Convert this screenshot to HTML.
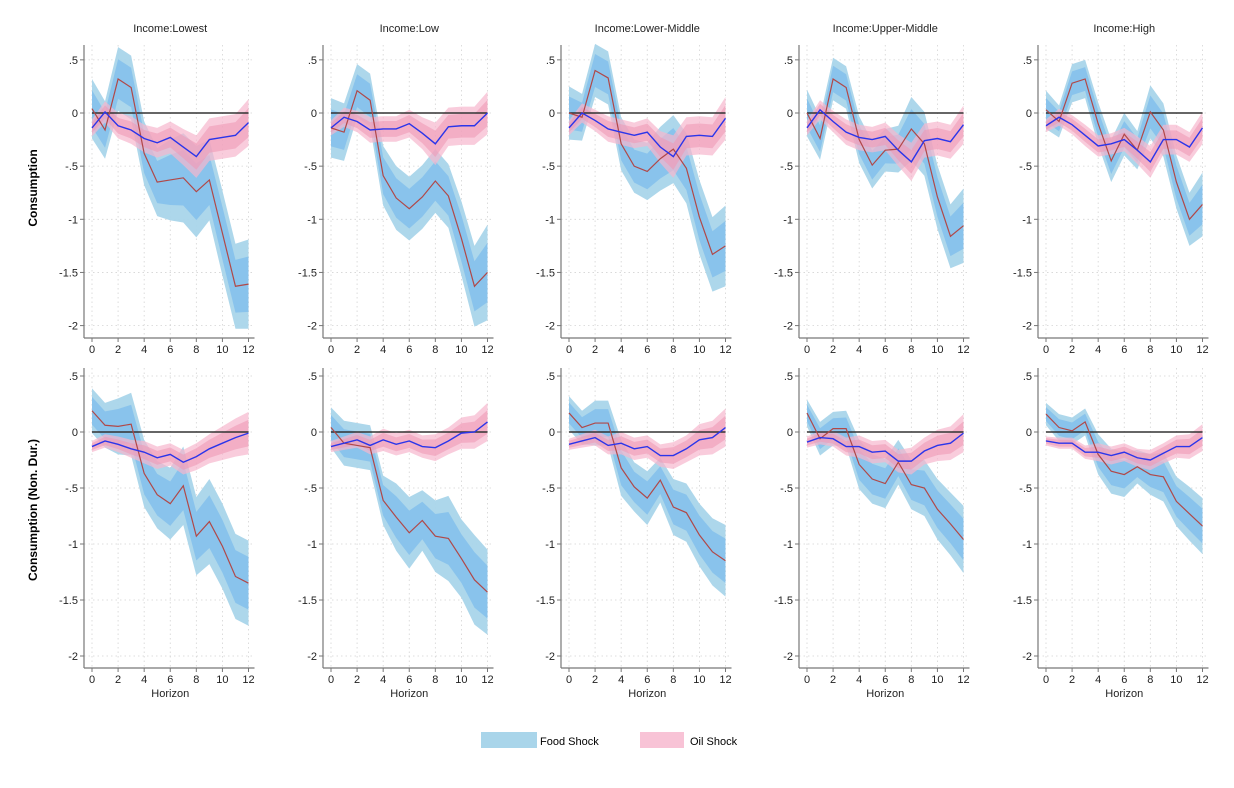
<!DOCTYPE html>
<html><head><meta charset="utf-8"><style>
html,body{margin:0;padding:0;background:#fff;}
svg{display:block;font-family:"Liberation Sans",Arial,sans-serif;}
</style></head><body>
<svg id="chart" width="1234" height="788" viewBox="0 0 1234 788" xmlns="http://www.w3.org/2000/svg">
<text x="37" y="188" transform="rotate(-90 37 188)" text-anchor="middle" font-size="12" font-weight="bold">Consumption</text>
<text x="37" y="510" transform="rotate(-90 37 510)" text-anchor="middle" font-size="12" font-weight="bold">Consumption (Non. Dur.)</text>
<g>
<rect x="481" y="732" width="56" height="16" fill="#a9d5ea"/>
<text x="540" y="745" font-size="11">Food Shock</text>
<rect x="640" y="732" width="44" height="16" fill="#f8c3d6"/>
<text x="690" y="745" font-size="11">Oil Shock</text>
</g>
</svg>
<script>
const horizons = [0,1,2,3,4,5,6,7,8,9,10,11,12];
const xTickLabels = ["0","2","4","6","8","10","12"];
const yTickValues = [0.5,0,-0.5,-1,-1.5,-2];
const yTickLabels = [".5","0","-.5","-1","-1.5","-2"];
const panelTitles = ["Income:Lowest","Income:Low","Income:Lower-Middle","Income:Upper-Middle","Income:High"];

// Row 1: Consumption
const foodR1 = [
 [0.04,-0.16,0.32,0.24,-0.38,-0.65,-0.63,-0.61,-0.74,-0.63,-1.13,-1.63,-1.61],
 [-0.14,-0.18,0.21,0.12,-0.59,-0.80,-0.90,-0.79,-0.64,-0.78,-1.18,-1.63,-1.50],
 [0.00,-0.04,0.40,0.33,-0.29,-0.50,-0.55,-0.43,-0.34,-0.52,-0.98,-1.33,-1.25],
 [0.00,-0.24,0.32,0.24,-0.25,-0.49,-0.35,-0.34,-0.15,-0.29,-0.79,-1.16,-1.06],
 [0.03,-0.08,0.28,0.32,-0.10,-0.45,-0.20,-0.35,0.01,-0.16,-0.65,-1.00,-0.86]];
const oilR1 = [
 [-0.14,0.01,-0.12,-0.16,-0.24,-0.28,-0.23,-0.32,-0.41,-0.25,-0.23,-0.21,-0.09],
 [-0.14,-0.04,-0.08,-0.16,-0.15,-0.15,-0.10,-0.19,-0.29,-0.13,-0.12,-0.12,0.00],
 [-0.14,0.00,-0.07,-0.15,-0.18,-0.21,-0.18,-0.32,-0.41,-0.22,-0.21,-0.22,-0.05],
 [-0.14,0.03,-0.08,-0.18,-0.23,-0.25,-0.22,-0.35,-0.46,-0.26,-0.24,-0.27,-0.11],
 [-0.12,-0.04,-0.11,-0.21,-0.31,-0.29,-0.25,-0.35,-0.46,-0.25,-0.25,-0.32,-0.14]];
const foodCiR1 = [
 [0.28,0.27,0.30,0.30,0.30,0.32,0.38,0.42,0.43,0.38,0.40,0.40,0.42],
 [0.28,0.27,0.25,0.25,0.28,0.30,0.30,0.30,0.30,0.30,0.35,0.38,0.45],
 [0.25,0.22,0.25,0.25,0.25,0.25,0.27,0.30,0.32,0.33,0.35,0.35,0.38],
 [0.22,0.20,0.20,0.20,0.22,0.22,0.20,0.22,0.30,0.30,0.30,0.30,0.35],
 [0.18,0.15,0.18,0.18,0.20,0.20,0.20,0.18,0.25,0.25,0.25,0.25,0.30]];
const oilCiR1 = [
 [0.08,0.10,0.12,0.13,0.13,0.14,0.15,0.17,0.20,0.20,0.20,0.20,0.22],
 [0.07,0.09,0.10,0.12,0.12,0.12,0.13,0.15,0.20,0.18,0.18,0.18,0.20],
 [0.07,0.09,0.10,0.12,0.12,0.12,0.13,0.15,0.20,0.18,0.18,0.18,0.20],
 [0.07,0.09,0.10,0.12,0.12,0.12,0.13,0.15,0.18,0.16,0.16,0.16,0.18],
 [0.06,0.08,0.09,0.10,0.10,0.10,0.11,0.13,0.15,0.14,0.14,0.14,0.15]];

// Row 2: Consumption (Non. Dur.)
const foodR2 = [
 [0.19,0.06,0.05,0.07,-0.37,-0.56,-0.64,-0.48,-0.93,-0.80,-1.02,-1.29,-1.35],
 [0.04,-0.10,-0.12,-0.14,-0.61,-0.76,-0.90,-0.79,-0.93,-0.95,-1.13,-1.32,-1.43],
 [0.17,0.04,0.08,0.08,-0.32,-0.49,-0.59,-0.43,-0.67,-0.72,-0.92,-1.07,-1.15],
 [0.17,-0.06,0.03,0.03,-0.29,-0.42,-0.46,-0.27,-0.47,-0.50,-0.69,-0.82,-0.96],
 [0.16,0.04,0.01,0.09,-0.20,-0.35,-0.38,-0.31,-0.38,-0.40,-0.62,-0.73,-0.84]];
const oilR2 = [
 [-0.13,-0.08,-0.11,-0.15,-0.18,-0.23,-0.20,-0.27,-0.22,-0.15,-0.10,-0.05,-0.01],
 [-0.13,-0.10,-0.07,-0.12,-0.07,-0.11,-0.08,-0.13,-0.14,-0.08,-0.01,0.00,0.09],
 [-0.11,-0.08,-0.05,-0.12,-0.10,-0.15,-0.13,-0.21,-0.21,-0.15,-0.07,-0.05,0.04],
 [-0.09,-0.05,-0.06,-0.13,-0.13,-0.18,-0.17,-0.26,-0.26,-0.17,-0.12,-0.10,-0.01],
 [-0.08,-0.10,-0.10,-0.18,-0.18,-0.21,-0.18,-0.23,-0.25,-0.19,-0.13,-0.13,-0.05]];
const foodCiR2 = [
 [0.20,0.20,0.25,0.28,0.30,0.30,0.32,0.35,0.35,0.38,0.38,0.38,0.38],
 [0.18,0.20,0.20,0.20,0.22,0.30,0.32,0.27,0.32,0.38,0.35,0.40,0.38],
 [0.15,0.15,0.20,0.20,0.25,0.22,0.24,0.20,0.25,0.26,0.28,0.30,0.32],
 [0.12,0.15,0.15,0.16,0.22,0.22,0.22,0.20,0.22,0.25,0.27,0.28,0.30],
 [0.10,0.12,0.12,0.12,0.18,0.20,0.20,0.15,0.18,0.22,0.22,0.24,0.25]];
const oilCiR2 = [
 [0.05,0.06,0.07,0.08,0.10,0.10,0.10,0.11,0.12,0.13,0.15,0.17,0.19],
 [0.05,0.06,0.07,0.08,0.10,0.10,0.10,0.10,0.12,0.12,0.14,0.15,0.17],
 [0.05,0.06,0.07,0.08,0.10,0.10,0.10,0.10,0.12,0.12,0.14,0.15,0.17],
 [0.05,0.06,0.07,0.08,0.10,0.10,0.10,0.10,0.12,0.12,0.14,0.15,0.17],
 [0.04,0.05,0.05,0.06,0.08,0.08,0.08,0.08,0.09,0.09,0.10,0.11,0.12]];

const NS = "http://www.w3.org/2000/svg";
const svg = document.getElementById("chart");
const x0s = [92, 331, 569, 807, 1046];
const xw = 156.5;
const rows = [
  {zero:113, unit:106.3, top:45, axisY:338, food:foodR1, oil:oilR1, fci:foodCiR1, oci:oilCiR1, horizon:false},
  {zero:432, unit:112, top:368, axisY:668, food:foodR2, oil:oilR2, fci:foodCiR2, oci:oilCiR2, horizon:true}
];
function mk(tag, attrs, parent){
  const e = document.createElementNS(NS, tag);
  for (const k in attrs) e.setAttribute(k, attrs[k]);
  parent.appendChild(e);
  return e;
}
function bandPath(xs, ys, mid, hw, f){
  let up = [], lo = [];
  mid.forEach((v,i)=>{ up.push(xs(horizons[i])+","+ys(v+hw[i]*f)); lo.unshift(xs(horizons[i])+","+ys(v-hw[i]*f)); });
  return "M"+up.join("L")+"L"+lo.join("L")+"Z";
}
function linePath(xs, ys, vals){
  return "M"+vals.map((v,i)=>xs(horizons[i])+","+ys(v)).join("L");
}
rows.forEach((r, ri)=>{
  for (let p=0; p<5; p++){
    const xs = h => x0s[p] + h * xw / 12;
    const ys = v => r.zero - v * r.unit;
    const g = mk("g", {}, svg);
    
    
    const ax = x0s[p] - 8;
    // grid
    yTickValues.forEach(v=>{
      const l = mk("line",{x1:ax,x2:x0s[p]+xw+6,y1:ys(v),y2:ys(v),stroke:"#d4d4d4","stroke-width":0.8,"stroke-dasharray":"1.5,3"}, g);
      
      
    });
    xTickLabels.forEach(t=>{
      const l = mk("line",{x1:xs(+t),x2:xs(+t),y1:r.top,y2:r.axisY,stroke:"#d4d4d4","stroke-width":0.8,"stroke-dasharray":"1.5,3"}, g);
      
      
    });
    // bands
    const fo = mk("path",{d:bandPath(xs,ys,r.food[p],r.fci[p],1),fill:"#a9d5ea",opacity:0.95}, g);
    
    
    const fi = mk("path",{d:bandPath(xs,ys,r.food[p],r.fci[p],0.62),fill:"#85c1ec",opacity:0.9}, g);
    
    
    const oo = mk("path",{d:bandPath(xs,ys,r.oil[p],r.oci[p],1),fill:"#f6b7cd",opacity:0.7}, g);
    
    
    const oi = mk("path",{d:bandPath(xs,ys,r.oil[p],r.oci[p],0.62),fill:"#ee9ab6",opacity:0.6}, g);
    
    
    // zero line
    const z = mk("line",{x1:xs(0),x2:xs(12),y1:ys(0),y2:ys(0),stroke:"#333","stroke-width":1.4}, g);
    
    
    // lines
    const fl = mk("path",{d:linePath(xs,ys,r.food[p]),fill:"none",stroke:"#b04848","stroke-width":1.2}, g);
    
    
    const ol = mk("path",{d:linePath(xs,ys,r.oil[p]),fill:"none",stroke:"#2b35ea","stroke-width":1.4}, g);
    
    
    // axes
    const ya = mk("line",{x1:ax,x2:ax,y1:r.top,y2:r.axisY,stroke:"#777","stroke-width":1.2}, g);
    
    
    const xa = mk("line",{x1:ax,x2:x0s[p]+xw+6,y1:r.axisY,y2:r.axisY,stroke:"#777","stroke-width":1.2}, g);
    
    
    yTickValues.forEach((v,i)=>{
      mk("line",{x1:ax-4,x2:ax,y1:ys(v),y2:ys(v),stroke:"#777","stroke-width":1}, g);
      const t = mk("text",{x:ax-6,y:ys(v)+4,"text-anchor":"end","font-size":11,fill:"#222"}, g);
      t.textContent = yTickLabels[i];
      
      
    });
    xTickLabels.forEach(lbl=>{
      mk("line",{x1:xs(+lbl),x2:xs(+lbl),y1:r.axisY,y2:r.axisY+4,stroke:"#777","stroke-width":1}, g);
      const t = mk("text",{x:xs(+lbl),y:r.axisY+15,"text-anchor":"middle","font-size":11,fill:"#222"}, g);
      t.textContent = lbl;
      
      
    });
    if (r.horizon){
      const t = mk("text",{x:xs(6),y:r.axisY+29,"text-anchor":"middle","font-size":11,fill:"#222"}, g);
      t.textContent = "Horizon";
      
      
    } else {
      const t = mk("text",{x:xs(6),y:32,"text-anchor":"middle","font-size":11,fill:"#222"}, g);
      t.textContent = panelTitles[p];
      
      
    }
  }
});
</script>
</body></html>
